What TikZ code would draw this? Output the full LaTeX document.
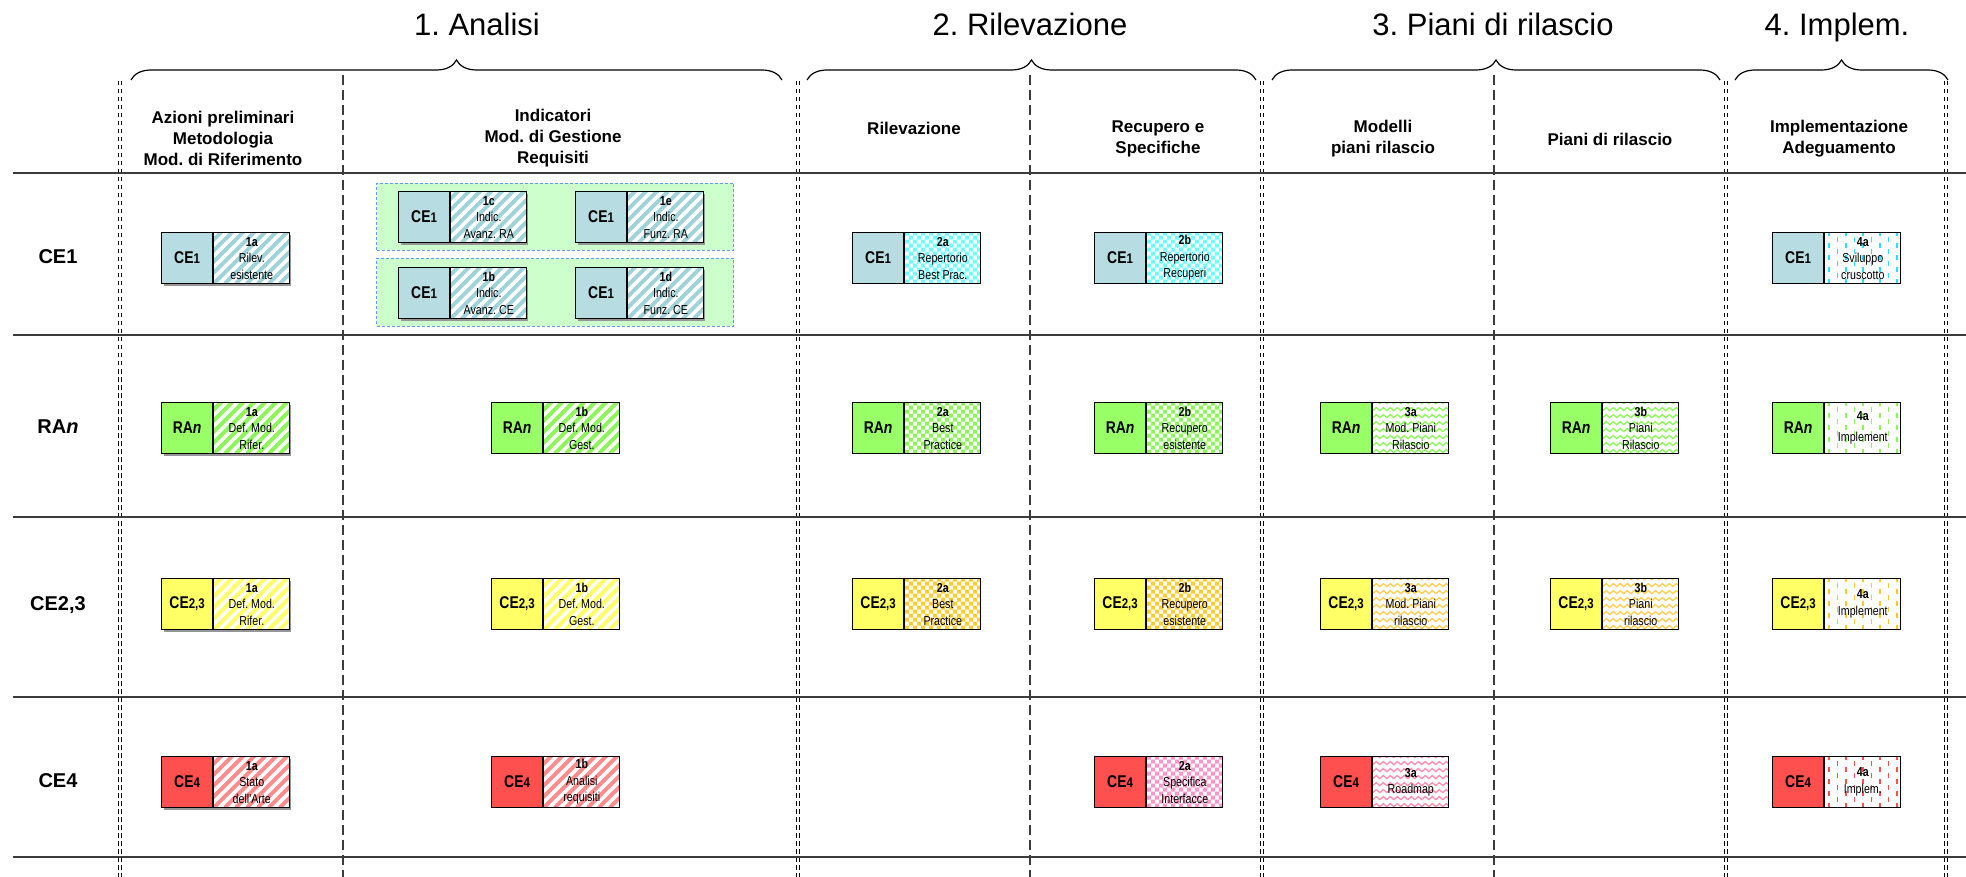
\documentclass[tikz,border=0pt]{standalone}
\usepackage{fontspec}
\setmainfont{Liberation Sans}
\newfontfamily\narrowsf[FakeStretch=0.82]{Liberation Sans}
\usetikzlibrary{decorations.pathreplacing}
\frenchspacing

\definecolor{ceA}{RGB}{183,221,226}
\definecolor{ceAstripe}{RGB}{160,210,218}
\definecolor{ceAcheck}{RGB}{110,255,255}
\definecolor{ceAdash}{RGB}{40,225,255}
\definecolor{raN}{RGB}{153,255,102}
\definecolor{raNpat}{RGB}{140,245,90}
\definecolor{ceB}{RGB}{255,255,102}
\definecolor{ceBcheck}{RGB}{255,204,51}
\definecolor{ceBzig}{RGB}{255,205,80}
\definecolor{ceBdash}{RGB}{255,200,40}
\definecolor{ceC}{RGB}{255,80,80}
\definecolor{ceCstripe}{RGB}{255,140,140}
\definecolor{ceCcheck}{RGB}{255,150,200}
\definecolor{ceCzig}{RGB}{255,140,175}
\definecolor{ceCdash}{RGB}{255,80,80}
\definecolor{grpfill}{RGB}{204,255,204}
\definecolor{grpline}{RGB}{102,153,255}
\definecolor{rulegray}{RGB}{60,60,60}
\definecolor{shadowgray}{RGB}{150,150,150}

% tag text: large letters followed by smaller digits
\newcommand\tagtxt[2]{{\fontsize{17}{17}\selectfont #1}{\fontsize{14}{14}\selectfont #2}}
\newcommand\rantag{{\fontsize{17}{17}\selectfont RA\textit{n}}}

% one activity: coloured tag on the left, patterned description on the right
% #1 name, #2 x, #3 y (top left), #4 tag colour, #5 tag text, #6 pattern, #7 description
\newcommand\task[7]{%
  \node[tagbox, fill=#4] (#1-tag) at (#2,#3) {#5};
  \node[descbox, #6] (#1) at (#1-tag.north east) {#7};
}
\newcommand\taskshadow[2]{%
  \fill[shadowgray] ([xshift=3pt,yshift=-3pt]#1,#2) rectangle ++(127pt,-51pt);
}

\begin{document}
\begin{tikzpicture}[x=1pt, y=-1pt,
  tagbox/.style={draw=black, line width=1.2pt, minimum width=51pt,
    minimum height=51pt, inner sep=0pt, anchor=north west,
    font=\narrowsf\bfseries},
  descbox/.style={draw=black, line width=1.2pt, fill=white,
    minimum width=76pt, minimum height=51pt, inner sep=0pt,
    anchor=north west, align=center,
    font=\narrowsf\fontsize{13}{16.5}\selectfont},
  pstripes/.style={path picture={
    \foreach \k in {-8,...,8}{
      \draw[draw=#1, line width=4pt]
        ([xshift=\k*11pt]path picture bounding box.south west) -- ++(70pt,70pt);}}},
  pchecker/.style={path picture={
    \foreach \i in {0,...,10}{\foreach \j in {0,...,7}{
      \fill[#1] ([xshift=\i*8pt,yshift=\j*8pt]path picture bounding box.south west)
        rectangle ++(4pt,4pt) rectangle ++(4pt,4pt);}}}},
  pzigzag/.style={path picture={
    \foreach \j in {0,...,7}{
      \draw[#1, line width=1.3pt]
        ([yshift=\j*7pt+1pt]path picture bounding box.south west)
        \foreach \t in {1,...,12}{ -- ++(3.5pt,3pt) -- ++(3.5pt,-3pt)};}}},
  pvdash/.style={path picture={
    \foreach \i in {0,2,...,10}{
      \draw[#1, line width=1.6pt, dash pattern=on 5pt off 7pt]
        ([xshift=\i*8.5pt+4pt]path picture bounding box.south west) -- ++(0pt,60pt);}
    \foreach \i in {1,3,...,9}{
      \draw[#1, line width=1.6pt, dash pattern=on 5pt off 7pt, dash phase=6pt]
        ([xshift=\i*8.5pt+4pt]path picture bounding box.south west) -- ++(0pt,60pt);}}},
  groupbox/.style={draw=grpline, fill=grpfill, line width=1pt,
    dash pattern=on 3pt off 2pt, minimum width=357pt, minimum height=67pt,
    inner sep=0pt, anchor=north west},
  phase/.style={font=\fontsize{31}{36}\selectfont, anchor=base},
  colhead/.style={font=\bfseries\fontsize{17}{21}\selectfont, align=center},
  rowhead/.style={font=\bfseries\fontsize{20}{24}\selectfont},
  bracepath/.style={draw=black, line width=1.2pt,
    decorate, decoration={brace, amplitude=20pt}},
  hrule/.style={draw=rulegray, line width=1.5pt},
  dashedrule/.style={draw=rulegray, line width=1.5pt, dash pattern=on 10pt off 5pt},
  doublerule/.style={draw=black, line width=1pt, dash pattern=on 4.5pt off 3.5pt},
]
\useasboundingbox (0,0) rectangle (1966,877);

% phase titles and braces
\node[phase] (t1) at (477,36) {1. Analisi};
\node[phase] (t2) at (1030,36) {2. Rilevazione};
\node[phase] (t3) at (1493,36) {3. Piani di rilascio};
\node[phase] (t4) at (1837,36) {4. Implem.};
\draw[bracepath] (131,80) -- (782,80);
\draw[bracepath] (807,80) -- (1256,80);
\draw[bracepath] (1272,80) -- (1720,80);
\draw[bracepath] (1735,80) -- (1948,80);

% column separators
\foreach \x in {120,798,1262,1726,1946}{
  \draw[doublerule] (\x-1.5,81) -- (\x-1.5,877);
  \draw[doublerule] (\x+1.5,81) -- (\x+1.5,877);
}
\foreach \x in {343,1030,1494}{
  \draw[dashedrule] (\x,75) -- (\x,877);
}

% row separators
\foreach \y in {173,335,517,697,857}{
  \draw[hrule] (13,\y) -- (1966,\y);
}

% column headers
\node[colhead] (h1) at (223,138) {Azioni preliminari\\Metodologia\\Mod. di Riferimento};
\node[colhead] (h2) at (553,138) {Indicatori\\Mod. di Gestione\\Requisiti};
\node[colhead] (h3) at (914,128) {Rilevazione};
\node[colhead] (h4) at (1158,138.5) {Recupero e\\Specifiche};
\node[colhead] (h5) at (1383,138.5) {Modelli\\piani rilascio};
\node[colhead] (h6) at (1610,139) {Piani di rilascio};
\node[colhead] (h7) at (1839,138.5) {Implementazione\\Adeguamento};

% row headers
\node[rowhead] (r1) at (58,257) {CE1};
\node[rowhead] (r2) at (58,427) {RA\textit{n}};
\node[rowhead] (r3) at (58,605) {CE2,3};
\node[rowhead] (r4) at (58,781) {CE4};

% indicator groups
\node[groupbox] (grpA) at (376,183) {};
\node[groupbox, minimum height=68pt] (grpB) at (376,258) {};

% shadows under the first-phase activities
\taskshadow{161}{232}
\taskshadow{398}{191}
\taskshadow{575}{191}
\taskshadow{398}{267}
\taskshadow{575}{267}
\taskshadow{161}{402}
\taskshadow{161}{578}
\taskshadow{161}{756}

% row CE1
\task{a1a}{161}{232}{ceA}{\tagtxt{CE}{1}}{pstripes=ceAstripe}{\textbf{1a}\\Rilev.\\esistente}
\task{a1c}{398}{191}{ceA}{\tagtxt{CE}{1}}{pstripes=ceAstripe}{\textbf{1c}\\Indic.\\Avanz. RA}
\task{a1e}{575}{191}{ceA}{\tagtxt{CE}{1}}{pstripes=ceAstripe}{\textbf{1e}\\Indic.\\Funz. RA}
\task{a1b}{398}{267}{ceA}{\tagtxt{CE}{1}}{pstripes=ceAstripe}{\textbf{1b}\\Indic.\\Avanz. CE}
\task{a1d}{575}{267}{ceA}{\tagtxt{CE}{1}}{pstripes=ceAstripe}{\textbf{1d}\\Indic.\\Funz. CE}
\task{a2a}{852}{232}{ceA}{\tagtxt{CE}{1}}{pchecker=ceAcheck}{\textbf{2a}\\Repertorio\\Best Prac.}
\task{a2b}{1094}{232}{ceA}{\tagtxt{CE}{1}}{pchecker=ceAcheck}{\textbf{2b}\\Repertorio\\Recuperi}
\task{a4a}{1772}{232}{ceA}{\tagtxt{CE}{1}}{pvdash=ceAdash}{\textbf{4a}\\Sviluppo\\cruscotto}

% row RAn
\task{b1a}{161}{402}{raN}{\rantag}{pstripes=raNpat}{\textbf{1a}\\Def. Mod.\\Rifer.}
\task{b1b}{491}{402}{raN}{\rantag}{pstripes=raNpat}{\textbf{1b}\\Def. Mod.\\Gest.}
\task{b2a}{852}{402}{raN}{\rantag}{pchecker=raNpat}{\textbf{2a}\\Best\\Practice}
\task{b2b}{1094}{402}{raN}{\rantag}{pchecker=raNpat}{\textbf{2b}\\Recupero\\esistente}
\task{b3a}{1320}{402}{raN}{\rantag}{pzigzag=raNpat}{\textbf{3a}\\Mod. Piani\\Rilascio}
\task{b3b}{1550}{402}{raN}{\rantag}{pzigzag=raNpat}{\textbf{3b}\\Piani\\Rilascio}
\task{b4a}{1772}{402}{raN}{\rantag}{pvdash=raNpat}{\textbf{4a}\\[4pt]Implement}

% row CE2,3
\task{c1a}{161}{578}{ceB}{\tagtxt{CE}{2,3}}{pstripes=ceB}{\textbf{1a}\\Def. Mod.\\Rifer.}
\task{c1b}{491}{578}{ceB}{\tagtxt{CE}{2,3}}{pstripes=ceB}{\textbf{1b}\\Def. Mod.\\Gest.}
\task{c2a}{852}{578}{ceB}{\tagtxt{CE}{2,3}}{pchecker=ceBcheck}{\textbf{2a}\\Best\\Practice}
\task{c2b}{1094}{578}{ceB}{\tagtxt{CE}{2,3}}{pchecker=ceBcheck}{\textbf{2b}\\Recupero\\esistente}
\task{c3a}{1320}{578}{ceB}{\tagtxt{CE}{2,3}}{pzigzag=ceBzig}{\textbf{3a}\\Mod. Piani\\rilascio}
\task{c3b}{1550}{578}{ceB}{\tagtxt{CE}{2,3}}{pzigzag=ceBzig}{\textbf{3b}\\Piani\\rilascio}
\task{c4a}{1772}{578}{ceB}{\tagtxt{CE}{2,3}}{pvdash=ceBdash}{\textbf{4a}\\Implement}

% row CE4
\task{d1a}{161}{756}{ceC}{\tagtxt{CE}{4}}{pstripes=ceCstripe}{\textbf{1a}\\Stato\\dell'Arte}
\task{d1b}{491}{756}{ceC}{\tagtxt{CE}{4}}{pstripes=ceCstripe}{\textbf{1b}\\Analisi\\requisiti}
\task{d2a}{1094}{756}{ceC}{\tagtxt{CE}{4}}{pchecker=ceCcheck}{\textbf{2a}\\Specifica\\Interfacce}
\task{d3a}{1320}{756}{ceC}{\tagtxt{CE}{4}}{pzigzag=ceCzig}{\textbf{3a}\\Roadmap}
\task{d4a}{1772}{756}{ceC}{\tagtxt{CE}{4}}{pvdash=ceCdash}{\textbf{4a}\\Implem.}
\end{tikzpicture}
\end{document}
